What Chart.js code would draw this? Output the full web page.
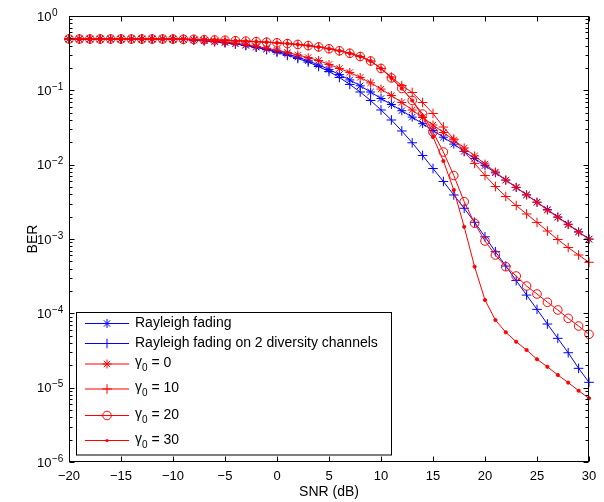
<!DOCTYPE html>
<html>
<head>
<meta charset="utf-8">
<title>BER vs SNR</title>
<script src="https://cdn.jsdelivr.net/npm/chart.js@4.4.1/dist/chart.umd.min.js"></script>
<style>
  html, body { margin: 0; padding: 0; background: #fff; }
  canvas { display: block; }
</style>
</head>
<body>
<canvas id="ber" width="604" height="502"></canvas>
<script>
// SNR grid (dB), one point per dB
const snr = [-20, -19, -18, -17, -16, -15, -14, -13, -12, -11, -10, -9, -8, -7, -6, -5, -4, -3, -2, -1,
  0, 1, 2, 3, 4, 5, 6, 7, 8, 9, 10, 11, 12, 13, 14, 15, 16, 17, 18, 19, 20,
  21, 22, 23, 24, 25, 26, 27, 28, 29, 30];

// BER values
const rayleigh = [0.49, 0.49, 0.49, 0.49, 0.49, 0.49, 0.49, 0.49, 0.49, 0.49, 0.488,
  0.485, 0.476, 0.465, 0.452, 0.439, 0.421, 0.402, 0.381, 0.358, 0.333,
  0.308, 0.280, 0.250, 0.219, 0.191, 0.163, 0.138, 0.115, 0.095, 0.0776,
  0.0645, 0.0532, 0.0436, 0.0356, 0.0289, 0.0234, 0.0189, 0.0151, 0.0121, 0.0097,
  0.00776, 0.00619, 0.00494, 0.00393, 0.00313, 0.00249, 0.00198, 0.00158, 0.00125, 0.00100];

const diversity = [0.49, 0.49, 0.49, 0.49, 0.49, 0.49, 0.49, 0.49, 0.49, 0.49, 0.487,
  0.483, 0.474, 0.464, 0.451, 0.436, 0.420, 0.401, 0.379, 0.352, 0.324,
  0.295, 0.268, 0.240, 0.209, 0.179, 0.149, 0.120, 0.095, 0.073, 0.0544,
  0.0399, 0.0284, 0.0197, 0.0133, 0.00888, 0.00594, 0.00391, 0.00259, 0.00168, 0.00107,
  0.000675, 0.000433, 0.000276, 0.000176, 0.000113, 0.0000718, 0.0000461, 0.0000295, 0.0000182, 0.0000118];

const gamma0 = [0.49, 0.49, 0.49, 0.49, 0.49, 0.49, 0.49, 0.49, 0.49, 0.49, 0.489,
  0.486, 0.479, 0.470, 0.458, 0.447, 0.431, 0.412, 0.391, 0.369, 0.346,
  0.323, 0.299, 0.276, 0.252, 0.223, 0.197, 0.174, 0.149, 0.126, 0.104,
  0.0852, 0.0686, 0.0544, 0.0431, 0.0342, 0.0271, 0.0215, 0.0168, 0.0131, 0.0102,
  0.00797, 0.00622, 0.00496, 0.00391, 0.00312, 0.00245, 0.00196, 0.00156, 0.00124, 0.00099];

const gamma10 = [0.49, 0.49, 0.49, 0.49, 0.49, 0.49, 0.49, 0.49, 0.49, 0.49, 0.489,
  0.487, 0.485, 0.480, 0.476, 0.471, 0.465, 0.459, 0.452, 0.444, 0.436,
  0.425, 0.414, 0.400, 0.383, 0.363, 0.340, 0.315, 0.285, 0.248, 0.197,
  0.151, 0.116, 0.0935, 0.0686, 0.0488, 0.0321, 0.0221, 0.0150, 0.0104, 0.00715,
  0.00508, 0.00373, 0.00282, 0.00217, 0.00167, 0.00128, 0.000984, 0.000768, 0.000609, 0.000486];

const gamma20 = [0.49, 0.49, 0.49, 0.49, 0.49, 0.49, 0.49, 0.49, 0.49, 0.49, 0.489,
  0.487, 0.485, 0.480, 0.476, 0.471, 0.465, 0.459, 0.452, 0.444, 0.436,
  0.425, 0.414, 0.400, 0.383, 0.363, 0.340, 0.315, 0.285, 0.248, 0.197,
  0.1465, 0.106, 0.073, 0.048, 0.0275, 0.0148, 0.00715, 0.00318, 0.00163, 0.00094,
  0.000609, 0.000424, 0.000318, 0.000233, 0.000182, 0.000141, 0.000111, 0.0000857, 0.0000675, 0.0000522];

const gamma30 = [0.49, 0.49, 0.49, 0.49, 0.49, 0.49, 0.49, 0.49, 0.49, 0.49, 0.489,
  0.487, 0.485, 0.480, 0.476, 0.471, 0.465, 0.459, 0.452, 0.444, 0.436,
  0.425, 0.414, 0.400, 0.383, 0.363, 0.340, 0.315, 0.285, 0.248, 0.197,
  0.1465, 0.106, 0.073, 0.0452, 0.0236, 0.0112, 0.00456, 0.00146, 0.000424, 0.000151,
  0.0000813, 0.0000556, 0.0000415, 0.0000321, 0.0000241, 0.0000191, 0.0000148, 0.0000117, 0.0000091, 0.0000072];

const xTicks = [-20, -15, -10, -5, 0, 5, 10, 15, 20, 25, 30];
const yExponents = [0, -1, -2, -3, -4, -5, -6];
const gammaLevels = [0, 10, 20, 30];

const FONT = '"Liberation Sans", Arial, Helvetica, sans-serif';
const BLUE = '#0000ff';
const RED = '#ff0000';

const toPoints = arr => snr.map((x, i) => ({ x: x, y: arr[i] }));

// series in plot order, later ones on top
const series = [
  { label: 'Rayleigh fading', data: rayleigh, color: BLUE, marker: 'star', r: 4.5 },
  { label: 'Rayleigh fading on 2 diversity channels', data: diversity, color: BLUE, marker: 'cross', r: 4.8 },
  { label: 'γ0 = ' + gammaLevels[0], data: gamma0, color: RED, marker: 'star', r: 4.5, gamma: gammaLevels[0] },
  { label: 'γ0 = ' + gammaLevels[1], data: gamma10, color: RED, marker: 'cross', r: 4.8, gamma: gammaLevels[1] },
  { label: 'γ0 = ' + gammaLevels[2], data: gamma20, color: RED, marker: 'circle', r: 4.3, gamma: gammaLevels[2] },
  { label: 'γ0 = ' + gammaLevels[3], data: gamma30, color: RED, marker: 'dot', r: 1.6, gamma: gammaLevels[3] }
];

const datasets = series.map((s, i) => ({
  label: s.label,
  data: toPoints(s.data),
  borderColor: s.color,
  borderWidth: 1,
  tension: 0,
  fill: false,
  clip: false,
  order: series.length - i,
  pointStyle: s.marker === 'dot' ? 'circle' : s.marker,
  pointRadius: s.r,
  pointBorderWidth: 1,
  pointBorderColor: s.color,
  pointBackgroundColor: s.marker === 'dot' ? s.color : 'rgba(0,0,0,0)'
}));

function drawMarker(ctx, style, x, y, r, color) {
  ctx.save();
  ctx.strokeStyle = color;
  ctx.fillStyle = color;
  ctx.lineWidth = 1;
  ctx.beginPath();
  if (style === 'circle') {
    ctx.arc(x, y, r, 0, Math.PI * 2);
    ctx.stroke();
  } else if (style === 'dot') {
    ctx.arc(x, y, r, 0, Math.PI * 2);
    ctx.fill();
  } else {
    ctx.moveTo(x - r, y); ctx.lineTo(x + r, y);
    ctx.moveTo(x, y - r); ctx.lineTo(x, y + r);
    if (style === 'star') {
      const d = r * Math.SQRT1_2;
      ctx.moveTo(x - d, y - d); ctx.lineTo(x + d, y + d);
      ctx.moveTo(x - d, y + d); ctx.lineTo(x + d, y - d);
    }
    ctx.stroke();
  }
  ctx.restore();
}

// box, inward ticks, 10^n labels and the legend
const matlabAxes = {
  id: 'matlabAxes',
  afterDatasetsDraw(chart) {
    const { ctx, chartArea: a, scales } = chart;
    const xs = scales.x, ys = scales.y;
    const L = a.left + 0.5, R = a.right - 0.5, T = a.top + 0.5, B = a.bottom - 0.5;
    ctx.save();
    ctx.strokeStyle = '#000';
    ctx.lineWidth = 1;
    ctx.strokeRect(L, T, R - L, B - T);

    ctx.beginPath();
    xTicks.forEach(v => {
      const px = Math.round(xs.getPixelForValue(v)) + 0.5;
      ctx.moveTo(px, B); ctx.lineTo(px, B - 5);
      ctx.moveTo(px, T); ctx.lineTo(px, T + 5);
    });
    yExponents.forEach(e => {
      const py = Math.round(ys.getPixelForValue(Math.pow(10, e))) + 0.5;
      ctx.moveTo(L, py); ctx.lineTo(L + 5, py);
      ctx.moveTo(R, py); ctx.lineTo(R - 5, py);
      if (e > -6) {
        for (let k = 2; k <= 9; k++) {
          const my = Math.round(ys.getPixelForValue(k * Math.pow(10, e - 1))) + 0.5;
          ctx.moveTo(L, my); ctx.lineTo(L + 3, my);
          ctx.moveTo(R, my); ctx.lineTo(R - 3, my);
        }
      }
    });
    ctx.stroke();

    // y tick labels with superscript exponents
    ctx.fillStyle = '#000';
    ctx.textAlign = 'left';
    ctx.textBaseline = 'alphabetic';
    yExponents.forEach(e => {
      const py = ys.getPixelForValue(Math.pow(10, e));
      ctx.font = '13px ' + FONT;
      ctx.fillText('10', 37, py + 4.5);
      const w = ctx.measureText('10').width;
      ctx.font = '10px ' + FONT;
      ctx.fillText(e < 0 ? '\u2212' + Math.abs(e) : String(e), 37 + w + 0.5, py - 0.5);
    });

    // legend
    const box = { x: 76.5, y: 312.5, w: 315, h: 142.5 };
    const rowY = [323, 343, 363.5, 388.5, 415, 440];
    ctx.fillStyle = '#fff';
    ctx.fillRect(box.x, box.y, box.w, box.h);
    ctx.strokeStyle = '#000';
    ctx.strokeRect(box.x, box.y, box.w, box.h);
    series.forEach((s, i) => {
      const yy = rowY[i];
      ctx.strokeStyle = s.color;
      ctx.lineWidth = 1;
      ctx.beginPath();
      ctx.moveTo(85, yy + 0.5); ctx.lineTo(129, yy + 0.5);
      ctx.stroke();
      drawMarker(ctx, s.marker, 107, yy + 0.5, s.r, s.color);
      ctx.fillStyle = '#000';
      ctx.textBaseline = 'middle';
      ctx.font = '14px ' + FONT;
      if (s.gamma === undefined) {
        ctx.fillText(s.label, 135, yy);
      } else {
        ctx.fillText('γ', 135, yy - 1);
        const gw = ctx.measureText('γ').width;
        ctx.font = '10px ' + FONT;
        ctx.fillText('0', 135 + gw, yy + 5);
        const sw = ctx.measureText('0').width;
        ctx.font = '14px ' + FONT;
        ctx.fillText(' = ' + s.gamma, 135 + gw + sw, yy);
      }
    });
    ctx.restore();
  }
};

new Chart(document.getElementById('ber'), {
  type: 'line',
  data: { datasets: datasets },
  options: {
    responsive: false,
    animation: false,
    devicePixelRatio: 1,
    layout: { padding: { top: 16, right: 15, left: 0, bottom: 0 } },
    plugins: { legend: { display: false }, tooltip: { enabled: false } },
    scales: {
      x: {
        type: 'linear',
        min: -20,
        max: 30,
        grid: { display: false, drawTicks: false },
        border: { display: false },
        ticks: {
          stepSize: 5,
          autoSkip: false,
          maxRotation: 0,
          padding: 7,
          color: '#000',
          font: { family: FONT, size: 13 },
          callback: v => (v < 0 ? '\u2212' + Math.abs(v) : String(v))
        },
        title: {
          display: true,
          text: 'SNR (dB)',
          color: '#000',
          font: { family: FONT, size: 14 },
          padding: { top: 0, bottom: 1 }
        },
        afterFit: scale => { scale.height = 40; }
      },
      y: {
        type: 'logarithmic',
        min: 1e-6,
        max: 1,
        grid: { display: false, drawTicks: false },
        border: { display: false },
        ticks: { display: false },
        title: {
          display: true,
          text: 'BER',
          color: '#000',
          font: { family: FONT, size: 14 },
          padding: { top: 25, bottom: 0 }
        },
        afterFit: scale => { scale.width = 69; }
      }
    }
  },
  plugins: [matlabAxes]
});
</script>
</body>
</html>
